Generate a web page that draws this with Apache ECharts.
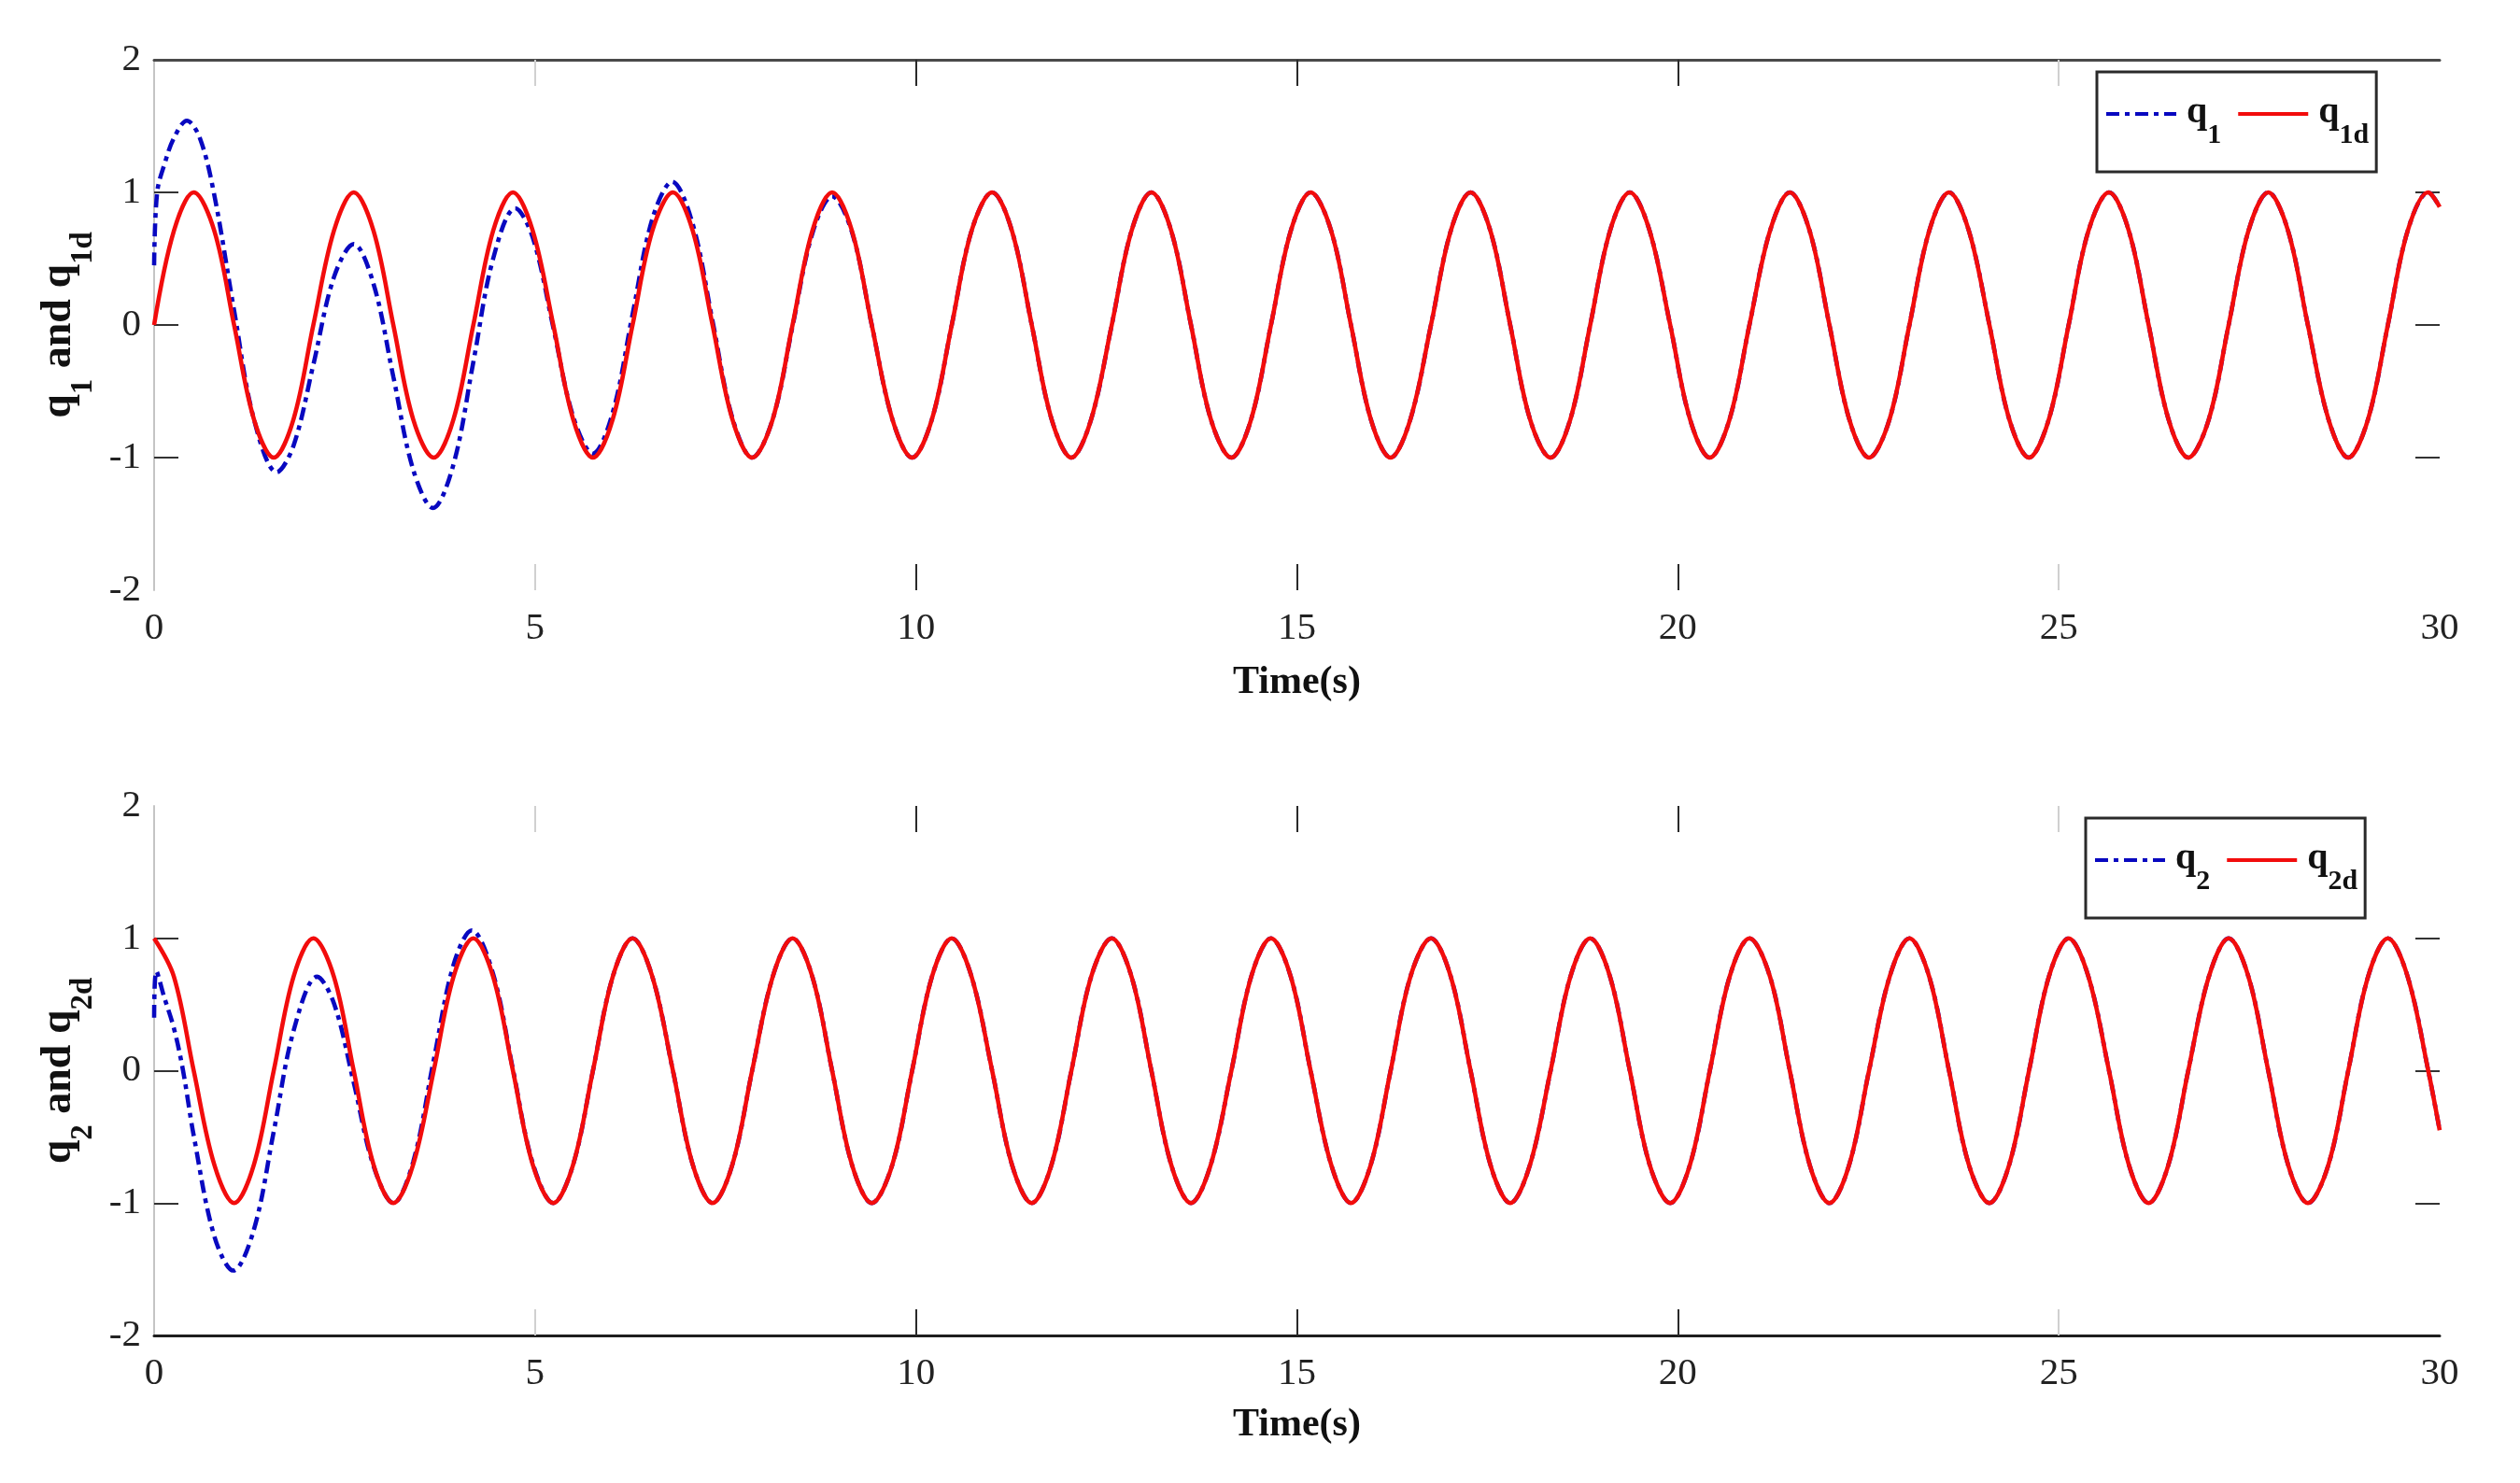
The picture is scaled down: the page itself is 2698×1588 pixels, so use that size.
<!DOCTYPE html>
<html>
<head>
<meta charset="utf-8">
<script src="https://cdn.jsdelivr.net/npm/echarts@6/dist/echarts.min.js"></script>
<style>
  html, body { margin: 0; padding: 0; background: #ffffff; }
  #chart { width: 2698px; height: 1588px; }
</style>
</head>
<body>
<div id="chart"></div>
<script>
// ---------------- DATA ----------------
// sample times (s) used for the desired trajectories
const timeSamples = [
  0, 0.26, 0.52, 0.79, 1.05, 1.31, 1.57, 1.83,
  2.09, 2.36, 2.62, 2.88, 3.14, 3.40, 3.67, 3.93,
  4.19, 4.45, 4.71, 4.97, 5.24, 5.50, 5.76, 6.02,
  6.28, 6.54, 6.81, 7.07, 7.33, 7.59, 7.85, 8.12,
  8.38, 8.64, 8.90, 9.16, 9.42, 9.69, 9.95, 10.21,
  10.47, 10.73, 11.00, 11.26, 11.52, 11.78, 12.04, 12.30,
  12.57, 12.83, 13.09, 13.35, 13.61, 13.87, 14.14, 14.40,
  14.66, 14.92, 15.18, 15.45, 15.71, 15.97, 16.23, 16.49,
  16.76, 17.02, 17.28, 17.54, 17.80, 18.06, 18.33, 18.59,
  18.85, 19.11, 19.37, 19.63, 19.90, 20.16, 20.42, 20.68,
  20.94, 21.21, 21.47, 21.73, 21.99, 22.25, 22.51, 22.78,
  23.04, 23.30, 23.56, 23.82, 24.09, 24.35, 24.61, 24.87,
  25.13, 25.39, 25.66, 25.92, 26.18, 26.44, 26.70, 26.97,
  27.23, 27.49, 27.75, 28.01, 28.27, 28.54, 28.80, 29.06,
  29.32, 29.58, 29.85, 30.00
];

// q1d (red, top panel)
const q1dValues = [
  0, 0.71, 1, 0.71, 0, -0.71, -1, -0.71,
  0, 0.71, 1, 0.71, 0, -0.71, -1, -0.71,
  0, 0.71, 1, 0.71, 0, -0.71, -1, -0.71,
  0, 0.71, 1, 0.71, 0, -0.71, -1, -0.71,
  0, 0.71, 1, 0.71, 0, -0.71, -1, -0.71,
  0, 0.71, 1, 0.71, 0, -0.71, -1, -0.71,
  0, 0.71, 1, 0.71, 0, -0.71, -1, -0.71,
  0, 0.71, 1, 0.71, 0, -0.71, -1, -0.71,
  0, 0.71, 1, 0.71, 0, -0.71, -1, -0.71,
  0, 0.71, 1, 0.71, 0, -0.71, -1, -0.71,
  0, 0.71, 1, 0.71, 0, -0.71, -1, -0.71,
  0, 0.71, 1, 0.71, 0, -0.71, -1, -0.71,
  0, 0.71, 1, 0.71, 0, -0.71, -1, -0.71,
  0, 0.71, 1, 0.71, 0, -0.71, -1, -0.71,
  0, 0.71, 1, 0.89
];

// q2d (red, bottom panel)
const q2dValues = [
  1, 0.71, 0, -0.71, -1, -0.71, 0, 0.71,
  1, 0.71, 0, -0.71, -1, -0.71, 0, 0.71,
  1, 0.71, 0, -0.71, -1, -0.71, 0, 0.71,
  1, 0.71, 0, -0.71, -1, -0.71, 0, 0.71,
  1, 0.71, 0, -0.71, -1, -0.71, 0, 0.71,
  1, 0.71, 0, -0.71, -1, -0.71, 0, 0.71,
  1, 0.71, 0, -0.71, -1, -0.71, 0, 0.71,
  1, 0.71, 0, -0.71, -1, -0.71, 0, 0.71,
  1, 0.71, 0, -0.71, -1, -0.71, 0, 0.71,
  1, 0.71, 0, -0.71, -1, -0.71, 0, 0.71,
  1, 0.71, 0, -0.71, -1, -0.71, 0, 0.71,
  1, 0.71, 0, -0.71, -1, -0.71, 0, 0.71,
  1, 0.71, 0, -0.71, -1, -0.71, 0, 0.71,
  1, 0.71, 0, -0.71, -1, -0.71, 0, 0.71,
  1, 0.71, 0, -0.45
];

// q1 (blue) transient part; afterwards it lies on q1d
const q1Times = [
  0, 0.04, 0.14, 0.26, 0.43, 0.60, 0.79, 1.05, 1.31, 1.61, 1.83, 2.09,
  2.36, 2.62, 2.88, 3.14, 3.40, 3.66, 3.93, 4.19, 4.45, 4.74, 4.97, 5.24,
  5.50, 5.76, 6.02, 6.28, 6.54, 6.80, 7.07, 7.33, 7.59, 7.85, 8.12, 8.38,
  8.64, 8.90, 9.16, 9.42, 9.69, 9.95
];
const q1Values = [
  0.45, 1.00, 1.22, 1.41, 1.54, 1.41, 0.98, 0.11, -0.71, -1.11, -0.91, -0.30,
  0.36, 0.61, 0.31, -0.39, -1.09, -1.38, -1.05, -0.28, 0.50, 0.88, 0.66, -0.02,
  -0.69, -0.97, -0.66, 0.08, 0.80, 1.08, 0.76, 0.03, -0.70, -1.00, -0.71, -0.01,
  0.69, 0.97, 0.70, 0.00, -0.71, -1.00
];

// q2 (blue) transient part; afterwards it lies on q2d
const q2Times = [
  0, 0.03, 0.13, 0.26, 0.38, 0.52, 0.79, 1.04, 1.31, 1.57, 1.83, 2.14,
  2.36, 2.62, 2.88, 3.14, 3.40, 3.67, 3.93, 4.17, 4.45, 4.71, 4.97, 5.24
];
const q2Values = [
  0.40, 0.75, 0.56, 0.32, 0.00, -0.49, -1.25, -1.51, -1.20, -0.46, 0.30, 0.71,
  0.51, -0.09, -0.72, -1.00, -0.69, 0.08, 0.80, 1.06, 0.73, 0.01, -0.70, -1.00
];

// tick positions
const xLabelTicks = [0, 5, 10, 15, 20, 25, 30];
const xDarkTicks = [10, 15, 20];
const xLightTicks = [5, 25];
const yTicks = [-1, 0, 1];

const seriesNames = [['q1', 'q1d'], ['q2', 'q2d']];

// ---------------- BUILD ----------------
function pairs(ts, vs) { return ts.map((t, i) => [t, vs[i]]); }
function tracked(ts, vs, refT, refV) {
  const last = ts[ts.length - 1];
  const out = pairs(ts, vs);
  refT.forEach((t, i) => { if (t > last) out.push([t, refV[i]]); });
  return out;
}

const q1dData = pairs(timeSamples, q1dValues);
const q2dData = pairs(timeSamples, q2dValues);
const q1Data = tracked(q1Times, q1Values, timeSamples, q1dValues);
const q2Data = tracked(q2Times, q2Values, timeSamples, q2dValues);

const SERIF = 'Liberation Serif';
const BLUE = '#0808c0';
const RED = '#f20c0c';

function xAxesFor(g) {
  const base = { gridIndex: g, type: 'value', min: 0, max: 30, interval: 5, splitLine: { show: false } };
  return [
    Object.assign({}, base, {
      position: 'bottom',
      axisLine: { show: g === 1, onZero: false, lineStyle: { color: '#1e1e1e', width: 3 } },
      axisTick: { show: true, inside: true, length: 28, customValues: xDarkTicks, lineStyle: { color: '#2a2a2a', width: 2 } },
      axisLabel: { fontFamily: SERIF, fontSize: 41, color: '#222', margin: 21, customValues: xLabelTicks },
      name: 'Time(s)', nameLocation: 'middle', nameGap: g === 0 ? 78 : 75,
      nameTextStyle: { fontFamily: SERIF, fontWeight: 'bold', fontSize: 42, color: '#111' }
    }),
    Object.assign({}, base, {
      position: 'bottom',
      axisLine: { show: false, onZero: false },
      axisTick: { show: true, inside: true, length: 28, customValues: xLightTicks, lineStyle: { color: '#d0d0d0', width: 2 } },
      axisLabel: { show: false }
    }),
    Object.assign({}, base, {
      position: 'top',
      axisLine: { show: g === 0, onZero: false, lineStyle: { color: '#4a4a4a', width: 3 } },
      axisTick: { show: true, inside: true, length: 28, customValues: xDarkTicks, lineStyle: { color: '#2a2a2a', width: 2 } },
      axisLabel: { show: false }
    }),
    Object.assign({}, base, {
      position: 'top',
      axisLine: { show: false, onZero: false },
      axisTick: { show: true, inside: true, length: 28, customValues: xLightTicks, lineStyle: { color: '#d0d0d0', width: 2 } },
      axisLabel: { show: false }
    })
  ];
}

const nameRich = {
  m: { fontFamily: SERIF, fontWeight: 'bold', fontSize: 46, lineHeight: 48, verticalAlign: 'top', color: '#111' },
  s: { fontFamily: SERIF, fontWeight: 'bold', fontSize: 33, lineHeight: 33, padding: [33, 0, 0, 0], verticalAlign: 'top', color: '#111' }
};
const legendRich = {
  m: { fontFamily: SERIF, fontWeight: 'bold', fontSize: 40, lineHeight: 42, verticalAlign: 'top', padding: [0, 0, 0, 6], color: '#111' },
  s: { fontFamily: SERIF, fontWeight: 'bold', fontSize: 30, lineHeight: 30, padding: [29, 0, 0, 0], verticalAlign: 'top', color: '#111' }
};
function richName(n) { return n.replace(/^q(.*)$/, '{m|q}{s|$1}'); }

function yAxesFor(g) {
  const base = { gridIndex: g, type: 'value', min: -2, max: 2, interval: 1, splitLine: { show: false } };
  const nm = seriesNames[g];
  return [
    Object.assign({}, base, {
      position: 'left',
      axisLine: { show: true, onZero: false, lineStyle: { color: '#c4c4c4', width: 2 } },
      axisTick: { show: true, inside: true, length: 26, customValues: yTicks, lineStyle: { color: '#333', width: 2 } },
      axisLabel: { fontFamily: SERIF, fontSize: 41, color: '#222', margin: 14 },
      name: richName(nm[0]) + '{m| and }' + richName(nm[1]),
      nameLocation: 'middle', nameGap: 46,
      nameTextStyle: { rich: nameRich }
    }),
    Object.assign({}, base, {
      position: 'right',
      axisLine: { show: false, onZero: false },
      axisTick: { show: true, inside: true, length: 26, customValues: yTicks, lineStyle: { color: '#333', width: 2 } },
      axisLabel: { show: false }
    })
  ];
}

function legendFor(g, left, top) {
  return {
    data: seriesNames[g], left: left, top: top, orient: 'horizontal',
    itemWidth: 75, itemHeight: 14, itemGap: 16,
    padding: [24, 8, 24, 8],
    borderColor: '#2a2a2a', borderWidth: 3, backgroundColor: '#ffffff',
    selectedMode: false,
    itemStyle: { opacity: 0 },
    lineStyle: { width: 4 },
    formatter: richName,
    textStyle: { rich: legendRich }
  };
}

function lineSeries(name, data, xi, yi, isRef) {
  return {
    type: 'line', name: name, data: data, xAxisIndex: xi, yAxisIndex: yi,
    symbol: 'none', smooth: 0.35, z: isRef ? 3 : 2,
    lineStyle: isRef ? { color: RED, width: 4.6, type: 'solid' } : { color: BLUE, width: 4.6, type: [14, 6, 5, 6] },
    itemStyle: { color: isRef ? RED : BLUE }
  };
}

const option = {
  backgroundColor: '#ffffff',
  animation: false,
  grid: [
    { left: 165, right: 86, top: 64, height: 568 },
    { left: 165, right: 86, top: 863, height: 567 }
  ],
  legend: [legendFor(0, 2245, 77), legendFor(1, 2233, 876)],
  xAxis: xAxesFor(0).concat(xAxesFor(1)),
  yAxis: yAxesFor(0).concat(yAxesFor(1)),
  series: [
    lineSeries('q1', q1Data, 0, 0, false),
    lineSeries('q1d', q1dData, 0, 0, true),
    lineSeries('q2', q2Data, 4, 2, false),
    lineSeries('q2d', q2dData, 4, 2, true)
  ]
};

const chart = echarts.init(document.getElementById('chart'), null, { renderer: 'canvas' });
chart.setOption(option);
</script>
</body>
</html>
